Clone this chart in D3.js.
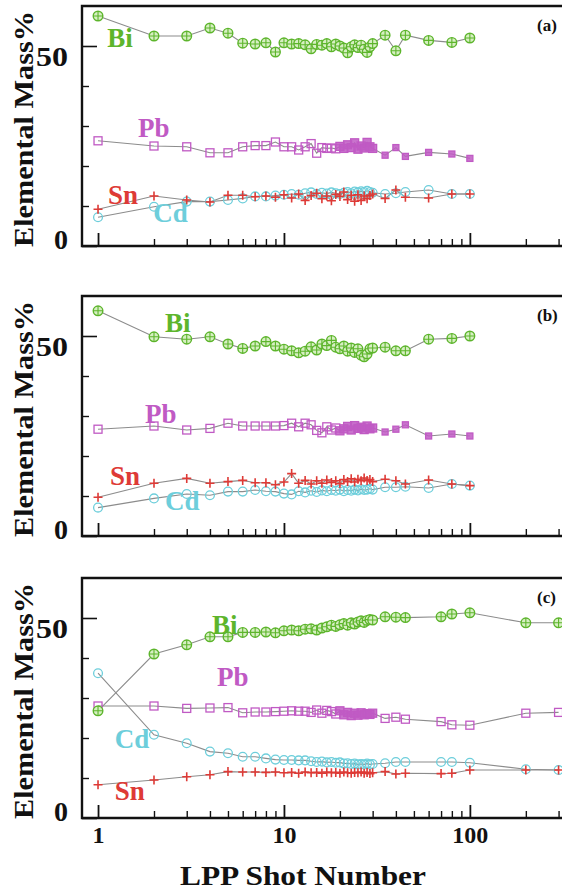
<!DOCTYPE html>
<html>
<head>
<meta charset="utf-8">
<script src="https://cdn.jsdelivr.net/npm/d3@7"></script>
<style>
  body { margin: 0; background: #fff; }
  svg { display: block; }
  text { font-family: "Liberation Serif", "Times New Roman", serif; font-weight: bold; }
</style>
</head>
<body>
<svg id="chart" width="562" height="895"></svg>
<script>
// shot numbers (x values)
const shotsAB = [1,2,3,4,5,6,7,8,9,10,11,12,13,14,15,16,17,18,19,20,
                 21,22,23,24,25,26,27,28,29,30,35,40,45,60,80,100];
const shotsC  = [1,2,3,4,5,6,7,8,9,10,11,12,13,14,15,16,17,18,19,20,
                 21,22,23,24,25,26,27,28,29,30,35,40,45,70,80,100,200,300];

// panel (a)
const biA = [57.5,52.5,52.5,54.5,53.2,50.7,50.5,50.8,48.5,50.8,
             50.5,50.6,50.3,49.3,50.4,50.2,50.6,49.8,50.5,50.0,
             49.5,48.3,49.8,50.3,49.6,50.2,49.2,48.4,49.8,50.6,
             52.7,48.8,52.7,51.4,50.9,52.0];
const pbA = [26.3,25.0,24.8,23.3,23.3,24.8,25.1,25.1,26.0,24.8,
             24.8,24.0,24.8,25.6,23.2,24.6,24.4,24.5,24.3,24.9,
             24.4,25.3,24.6,25.8,24.2,25.0,24.5,25.9,24.8,24.4,
             22.7,24.6,22.4,23.4,23.0,21.9];
const snA = [9.2,12.5,11.5,11.0,12.7,12.7,12.3,12.5,12.2,12.8,
             12.0,13.0,11.4,12.6,13.2,11.8,12.5,11.3,12.9,12.4,
             13.5,11.6,12.7,11.2,12.8,11.4,12.5,11.8,12.6,13.0,
             11.9,14.0,12.2,12.0,13.0,13.0];
const cdA = [7.2,9.8,11.1,11.1,11.5,11.9,12.4,12.4,12.6,12.8,
             13.0,12.8,13.2,13.4,13.0,13.3,13.1,13.4,13.2,13.0,
             13.3,13.5,13.2,13.6,13.4,13.7,13.5,13.8,13.5,13.3,
             13.0,13.2,13.5,14.0,13.0,13.0];

// panel (b)
const biB = [56.3,49.8,49.2,49.8,48.0,46.9,47.5,48.6,47.5,46.7,
             46.3,45.8,46.2,47.3,46.5,48.0,47.6,48.9,47.2,46.8,
             47.5,46.2,47.0,45.9,46.8,45.2,44.8,45.5,46.8,47.0,
             47.2,46.3,46.3,49.2,49.4,50.0];
const pbB = [26.7,27.5,26.5,26.9,28.2,27.5,27.5,27.5,27.5,27.6,
             28.2,27.3,28.2,27.8,26.4,25.8,27.3,26.5,27.0,26.3,
             26.8,27.4,26.5,27.6,26.9,27.2,26.6,27.5,26.8,27.0,
             26.0,26.7,27.8,25.0,25.5,25.0];
const snB = [9.7,13.2,14.4,13.2,13.6,13.9,13.3,13.3,12.8,13.5,
             15.6,13.2,13.9,13.0,13.8,13.2,14.0,13.4,13.8,13.1,
             14.1,13.6,14.3,13.5,14.2,13.8,14.5,13.9,14.1,13.6,
             14.2,13.8,13.0,14.0,13.0,12.6];
const cdB = [7.1,9.4,10.5,10.2,11.1,11.1,11.5,11.2,11.1,10.6,
             10.4,11.2,10.9,11.3,11.0,11.4,11.2,11.5,11.3,11.6,
             11.2,11.5,11.3,11.6,11.4,11.7,11.5,11.6,11.8,11.6,
             12.2,12.2,12.3,12.0,13.0,12.6];

// panel (c)
const biC = [26.8,41.0,43.3,45.3,45.3,46.4,46.4,46.5,46.3,46.8,
             47.0,46.8,47.2,47.3,47.0,47.5,47.8,48.2,47.9,48.3,
             48.6,48.2,48.8,48.5,49.0,49.3,48.9,49.4,49.6,49.5,
             50.3,50.2,50.1,50.3,51.0,51.3,48.8,48.8];
const pbC = [28.0,28.0,27.4,27.5,27.6,26.3,26.5,26.5,26.6,26.7,
             26.8,26.7,26.7,26.4,27.0,26.2,26.9,26.6,26.0,26.8,
             25.8,26.4,25.6,26.2,25.7,26.3,25.8,26.1,25.9,26.2,
             24.9,25.2,24.7,24.1,23.3,23.2,26.2,26.4];
const snC = [8.3,9.5,10.3,10.8,11.6,11.5,11.5,11.4,11.5,11.3,
             11.4,11.2,11.5,11.3,11.4,11.2,11.5,11.3,11.4,11.2,
             11.5,11.3,11.2,11.4,11.3,11.5,11.2,11.4,11.1,11.3,
             11.6,11.0,11.2,11.1,11.2,12.0,12.0,12.0];
const cdC = [36.2,20.8,18.7,16.6,16.2,15.3,15.3,14.9,14.6,14.5,
             14.5,14.4,14.4,14.2,14.0,14.1,13.9,14.0,13.8,13.9,
             13.6,13.7,13.5,13.6,13.4,13.5,13.4,13.6,13.4,13.5,
             13.7,14.0,14.0,14.0,14.0,13.8,12.2,12.0];

// axis ticks
const yMajor = [0, 50];
const yMinor = [10, 20, 30, 40];
const xMajor = [1, 10, 100];
const xMinor = [2,3,4,5,6,7,8,9,20,30,40,50,60,70,80,90,200,300];

const COL = { Bi: "#5db52c", Pb: "#c05ac4", Sn: "#de3a36", Cd: "#6dcedb" };

// label anchors in data units (shot, mass%)
const panels = [
  { tag: "(a)", top: 6,   shots: shotsAB, Bi: biA, Pb: pbA, Sn: snA, Cd: cdA, pbFill: [20, 30], pbSmall: 31,
    labels: { Bi: [1.12, 49.8], Pb: [1.64, 27.2], Sn: [1.13, 10.5], Cd: [1.98, 6.0] } },
  { tag: "(b)", top: 296, shots: shotsAB, Bi: biB, Pb: pbB, Sn: snB, Cd: cdB, pbFill: [20, 30], pbSmall: 31,
    labels: { Bi: [2.29, 51.0], Pb: [1.79, 28.2], Sn: [1.16, 12.7], Cd: [2.29, 6.5] } },
  { tag: "(c)", top: 578, shots: shotsC,  Bi: biC, Pb: pbC, Sn: snC, Cd: cdC, pbFill: [20, 30], pbSmall: Infinity,
    labels: { Bi: [4.1, 46.0], Pb: [4.37, 33.0], Sn: [1.23, 4.5], Cd: [1.23, 17.5] } }
];

const svg = d3.select("#chart");
const L = 82, R = 562, PH = 240;
const x = d3.scaleLog().domain([0.82, 313]).range([L, R]);

panels.forEach((p, i) => {
  const y = d3.scaleLinear().domain([0, 60]).range([p.top + PH, p.top]);
  const g = svg.append("g");
  const isLast = i === panels.length - 1;

  // ── y axis ticks (inward) ──
  g.append("g").attr("transform", `translate(${L},0)`)
    .call(d3.axisLeft(y).tickValues(yMajor).tickSize(-15).tickPadding(14).tickFormat(d3.format("d")))
    .call(a => a.select(".domain").remove())
    .call(a => a.selectAll("line").attr("stroke", "#111").attr("stroke-width", 1.6))
    .call(a => a.selectAll("text")
      .attr("font-size", 28).attr("fill", "#111").attr("font-family", null)
      .attr("textLength", d => d === 50 ? 32 : null)
      .attr("lengthAdjust", "spacingAndGlyphs")
      .attr("dy", d => d === 50 ? "0.7em" : "0.1em"));
  g.append("g").attr("transform", `translate(${L},0)`)
    .call(d3.axisLeft(y).tickValues(yMinor).tickSize(-7).tickFormat(""))
    .call(a => a.select(".domain").remove())
    .call(a => a.selectAll("line").attr("stroke", "#111").attr("stroke-width", 1.4));

  // ── x axis ticks (inward) ──
  g.append("g").attr("transform", `translate(0,${p.top + PH})`)
    .call(d3.axisBottom(x).tickValues(xMajor).tickSize(-13).tickPadding(8)
      .tickFormat(isLast ? d3.format("d") : ""))
    .call(a => a.select(".domain").remove())
    .call(a => a.selectAll("line").attr("stroke", "#111").attr("stroke-width", 1.8))
    .call(a => a.selectAll("text").attr("font-size", 24).attr("fill", "#111").attr("font-family", null));
  g.append("g").attr("transform", `translate(0,${p.top + PH})`)
    .call(d3.axisBottom(x).tickValues(xMinor).tickSize(-7).tickFormat(""))
    .call(a => a.select(".domain").remove())
    .call(a => a.selectAll("line").attr("stroke", "#111").attr("stroke-width", 1.4));

  // ── frame: top, left, bottom ──
  g.append("path")
    .attr("d", `M${R},${p.top}H${L}V${p.top + PH}H${R}`)
    .attr("fill", "none").attr("stroke", "#111").attr("stroke-width", 2.4);

  // ── connecting lines ──
  const line = d3.line().x(d => x(d[0])).y(d => y(d[1]));
  ["Cd", "Sn", "Pb", "Bi"].forEach(k => {
    g.append("path")
      .datum(p.shots.map((s, j) => [s, p[k][j]]))
      .attr("d", line)
      .attr("fill", "none").attr("stroke", "#8c8c8c").attr("stroke-width", 1.1);
  });

  const pts = k => p.shots.map((s, j) => ({ s, v: p[k][j] }));

  // Cd — open circles
  g.append("g").selectAll("circle").data(pts("Cd")).join("circle")
    .attr("cx", d => x(d.s)).attr("cy", d => y(d.v)).attr("r", 4.4)
    .attr("fill", "none").attr("stroke", COL.Cd).attr("stroke-width", 1.3);

  // Sn — plus signs
  g.append("g").selectAll("path").data(pts("Sn")).join("path")
    .attr("transform", d => `translate(${x(d.s)},${y(d.v)})`)
    .attr("d", "M-4.5,0H4.5M0,-4.5V4.5")
    .attr("stroke", COL.Sn).attr("stroke-width", 1.6);

  // Pb — squares (open, filled in the dense run, small filled later)
  g.append("g").selectAll("rect").data(pts("Pb")).join("rect")
    .each(function (d) {
      const small = d.s >= p.pbSmall;
      const filled = small || (d.s >= p.pbFill[0] && d.s <= p.pbFill[1]);
      const sz = small ? 6 : 8;
      d3.select(this)
        .attr("x", x(d.s) - sz / 2).attr("y", y(d.v) - sz / 2)
        .attr("width", sz).attr("height", sz)
        .attr("fill", filled ? COL.Pb : "none")
        .attr("fill-opacity", filled ? 0.85 : 1)
        .attr("stroke", COL.Pb).attr("stroke-width", 1.3);
    });

  // Bi — circled crosses
  const bi = g.append("g").selectAll("g").data(pts("Bi")).join("g")
    .attr("transform", d => `translate(${x(d.s)},${y(d.v)})`);
  bi.append("circle").attr("r", 4.8)
    .attr("fill", "#d6efc2").attr("stroke", COL.Bi).attr("stroke-width", 1.4);
  bi.append("path").attr("d", "M-4.8,0H4.8M0,-4.8V4.8")
    .attr("stroke", COL.Bi).attr("stroke-width", 1.1);

  // ── element labels ──
  Object.entries(p.labels).forEach(([k, pos]) => {
    g.append("text")
      .attr("x", x(pos[0])).attr("y", y(pos[1]))
      .attr("font-size", 27).attr("fill", COL[k])
      .text(k);
  });

  // panel tag
  g.append("text")
    .attr("x", 537).attr("y", p.top + 25)
    .attr("font-size", 17).attr("fill", "#111")
    .text(p.tag);

  // y title
  const cy = p.top + PH / 2 + 3;
  g.append("text")
    .attr("transform", `translate(33,${cy}) rotate(-90)`)
    .attr("text-anchor", "middle")
    .attr("font-size", 27).attr("fill", "#111")
    .attr("textLength", 236).attr("lengthAdjust", "spacingAndGlyphs")
    .text("Elemental Mass%");
});

// x title
svg.append("text")
  .attr("x", 303).attr("y", 885)
  .attr("text-anchor", "middle")
  .attr("font-size", 27).attr("fill", "#111")
  .attr("textLength", 246).attr("lengthAdjust", "spacingAndGlyphs")
  .text("LPP Shot Number");
</script>
</body>
</html>
